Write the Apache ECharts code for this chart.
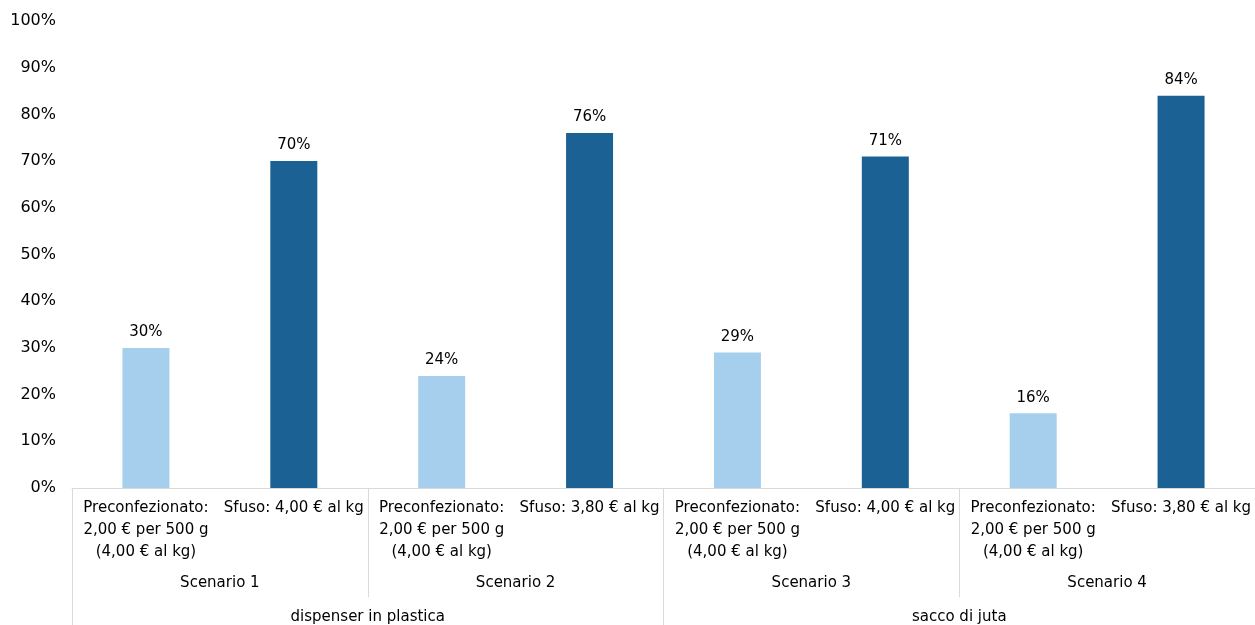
<!DOCTYPE html>
<html>
<head>
<meta charset="utf-8">
<script src="https://cdn.jsdelivr.net/npm/echarts@6/dist/echarts.min.js"></script>
<style>
html,body{margin:0;padding:0;background:#fff;}
#c{width:1255px;height:625px;}
</style>
</head>
<body>
<div id="c"></div>
<script>
var categories = [
  "Preconfezionato:\n2,00 € per 500 g\n(4,00 € al kg)", "Sfuso: 4,00 € al kg",
  "Preconfezionato:\n2,00 € per 500 g\n(4,00 € al kg)", "Sfuso: 3,80 € al kg",
  "Preconfezionato:\n2,00 € per 500 g\n(4,00 € al kg)", "Sfuso: 4,00 € al kg",
  "Preconfezionato:\n2,00 € per 500 g\n(4,00 € al kg)", "Sfuso: 3,80 € al kg"
];
var scenarios = ["Scenario 1", "Scenario 2", "Scenario 3", "Scenario 4"];
var groups = ["dispenser in plastica", "sacco di juta"];
var values = [30, 70, 24, 76, 29, 71, 16, 84];
var yTicks = [0, 10, 20, 30, 40, 50, 60, 70, 80, 90, 100];

var FONT = "DejaVu Sans";
var LIGHT = "#a6cfee";
var DARK = "#1c6194";
var GRID = "#d9d9d9";

var chart = echarts.init(document.getElementById('c'));
chart.setOption({
  animation: false,
  textStyle: {fontFamily: FONT},
  grid: {left: 72, right: 0, top: 21, bottom: 137, containLabel: false, outerBoundsMode: 'none'},
  xAxis: [
    {
      type: 'category', position: 'bottom', data: categories,
      axisLine: {show: true, lineStyle: {color: GRID, width: 1}},
      axisTick: {show: false},
      axisLabel: {interval: 0, color: '#000', fontSize: 15, fontFamily: FONT, lineHeight: 22, margin: 9, align: 'center'}
    },
    {
      type: 'category', position: 'bottom', data: scenarios,
      axisLine: {show: false},
      axisTick: {show: true, interval: 0, length: 109, lineStyle: {color: GRID, width: 1}},
      axisLabel: {interval: 0, color: '#000', fontSize: 15, fontFamily: FONT, lineHeight: 22, margin: 84}
    },
    {
      type: 'category', position: 'bottom', data: groups,
      axisLine: {show: false},
      axisTick: {show: true, interval: 0, length: 140, lineStyle: {color: GRID, width: 1}},
      axisLabel: {interval: 0, color: '#000', fontSize: 15, fontFamily: FONT, lineHeight: 22, margin: 118}
    }
  ],
  yAxis: {
    type: 'value', min: yTicks[0], max: yTicks[yTicks.length - 1], interval: 10,
    axisLine: {show: false}, axisTick: {show: false}, splitLine: {show: false},
    axisLabel: {color: '#000', fontSize: 16, fontFamily: FONT, margin: 16, formatter: function (v) { return v + '%'; }}
  },
  series: [{
    type: 'bar', xAxisIndex: 0, data: values, barWidth: 47,
    itemStyle: {color: function (p) { return p.dataIndex % 2 === 0 ? LIGHT : DARK; }},
    label: {show: true, position: 'top', distance: 8, color: '#000', fontSize: 15, fontFamily: FONT,
      formatter: function (p) { return Math.round(p.value) + '%'; }}
  }]
});
</script>
</body>
</html>
